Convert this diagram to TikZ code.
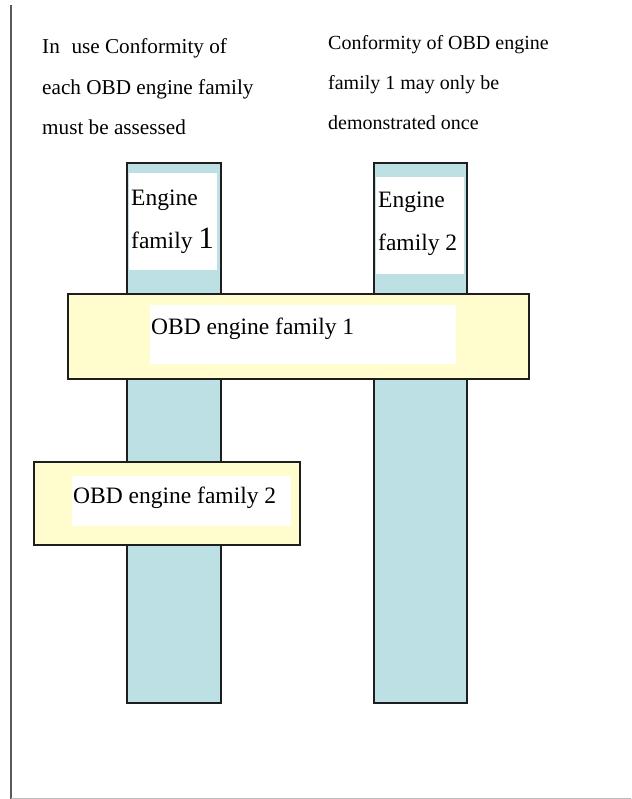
\documentclass[tikz,border=0pt]{standalone}
\usepackage{fontspec}
\setmainfont{Liberation Serif}
\begin{document}
\begin{tikzpicture}[x=1pt,y=-1pt,
  colbox/.style={fill=colfill,draw=edge,line width=1.6pt},
  barbox/.style={fill=barfill,draw=edge,line width=1.6pt},
  whitebox/.style={fill=white,draw=none},
  lefttext/.style={anchor=base west,inner sep=0pt,font=\fontsize{21.2}{24}\selectfont},
  righttext/.style={anchor=base west,inner sep=0pt,font=\fontsize{20}{24}\selectfont},
  boxtext/.style={anchor=base west,inner sep=0pt,font=\fontsize{23.5}{28}\selectfont}]
\definecolor{colfill}{HTML}{BCE0E3}
\definecolor{barfill}{HTML}{FFFDCD}
\definecolor{edge}{HTML}{1E1E1E}
\useasboundingbox (0,0) rectangle (631,799);
\fill[white] (0,0) rectangle (631,799);
% frame lines
\draw[line width=2pt,color=black!65] (11,5) -- (11,799);
\draw[line width=1pt,color=black!27] (11,798) -- (631,798);
% top texts
\node[lefttext] (l1) at (42,54) {In\hspace{0.55em}use Conformity of};
\node[lefttext] (l2) at (42,95) {each OBD engine family};
\node[lefttext] (l3) at (42,135) {must be assessed};
\node[righttext] (r1) at (328,50) {Conformity of OBD engine};
\node[righttext] (r2) at (328,90) {family 1 may only be};
\node[righttext] (r3) at (328,130) {demonstrated once};
% columns
\draw[colbox] (127,163) rectangle (221,703);
\draw[colbox] (374,163) rectangle (467,703);
\fill[whitebox] (129,173) rectangle (217,270);
\fill[whitebox] (376,177) rectangle (464,274);
\node[boxtext] (e1a) at (131,206) {Engine};
\node[boxtext] (e1b) at (131,249) {family {\fontsize{31}{31}\selectfont 1}};
\node[boxtext] (e2a) at (378,208) {Engine};
\node[boxtext] (e2b) at (378,251) {family 2};
% bar 1
\draw[barbox] (68,294) rectangle (529,379);
\fill[whitebox] (150,305) rectangle (456,364);
\node[boxtext] (o1) at (151,334) {OBD engine family 1};
% bar 2
\draw[barbox] (34,462) rectangle (300,545);
\fill[whitebox] (72,476) rectangle (291,526);
\node[boxtext] (o2) at (73,503) {OBD engine family 2};
\end{tikzpicture}
\end{document}
